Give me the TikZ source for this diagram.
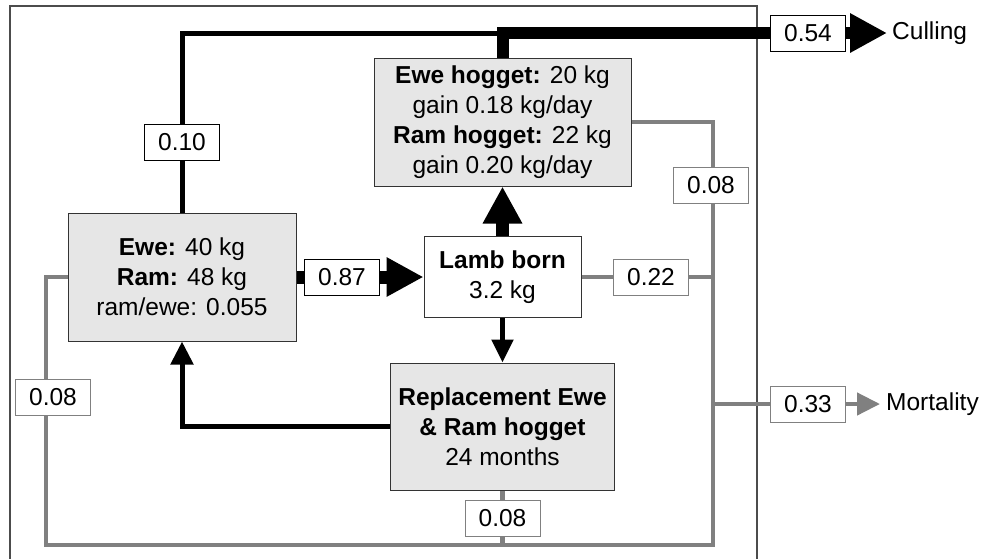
\documentclass[tikz,border=0pt]{standalone}
\usepackage{fontspec}
\setmainfont{Liberation Sans}
\usetikzlibrary{arrows.meta}
\definecolor{boxgray}{HTML}{E6E6E6}
\definecolor{flowgray}{HTML}{808080}

\begin{document}
\begin{tikzpicture}[x=1pt,y=-1pt,font=\fontsize{24.5}{30}\selectfont]
	\tikzstyle{bx}=[draw=black!80,line width=1pt,fill=boxgray,align=center,inner sep=0pt]
	\tikzstyle{lb}=[draw=black,fill=white,line width=1pt,minimum width=75pt,minimum height=36pt,inner sep=0pt]
	\tikzstyle{lg}=[lb,draw=flowgray]
	\tikzstyle{bk}=[line width=5pt]
	\tikzstyle{gy}=[line width=4.5pt,draw=flowgray]
	\tikzstyle{big}=[line width=13pt,-{Triangle[length=37pt,width=37pt]}]
	\useasboundingbox (0,0) rectangle (985,558);
	\draw[black!70, line width=1.2pt] (10,570) -- (10,6) -- (757,6) -- (757,570);
	% boxes
	\node[bx,minimum width=228pt,minimum height=128pt] (ewe) at (182,277) {\textbf{Ewe:} 40 kg\\\textbf{Ram:} 48 kg\\ram/ewe: 0.055};
	\node[bx,minimum width=257pt,minimum height=128pt] (hog) at (502.5,122) {\textbf{Ewe hogget:} 20 kg\\gain 0.18 kg/day\\\textbf{Ram hogget:} 22 kg\\gain 0.20 kg/day};
	\node[bx,fill=white,minimum width=157pt,minimum height=81pt] (lamb) at (502.5,277) {\textbf{Lamb born}\\3.2 kg};
	\node[bx,minimum width=224pt,minimum height=127pt] (rep) at (502.5,426.5) {\textbf{Replacement Ewe}\\\textbf{\& Ram hogget}\\24 months};
	\node[anchor=west,inner sep=5pt] (cul) at (887,33) {Culling};
	\node[anchor=west,inner sep=6pt] (mor) at (880,404) {Mortality};
	\coordinate (rc) at (713,545);
	\coordinate (lc) at (46,545);
	% gray flows
	\draw[gy] (hog.east) -| (rc) -- (lc) |- (ewe.west);
	\draw[gy] (lamb.east) -- (lamb.east -| rc);
	\draw[gy] (rep.south) -- (rep.south |- rc);
	\draw[gy,-{Triangle[length=23pt,width=22pt]}] (rc |- mor) -- (mor.west);
	% black flows
	\draw[line width=12pt,-{Triangle[length=37pt,width=37pt]}] (hog.north) |- (cul.west);
	\draw[bk] (ewe.north) |- (hog.north |- cul);
	\draw[big] (ewe.east) -- (lamb.west);
	\draw[big] (lamb.north) -- (hog.south);
	\draw[bk,-{Triangle[length=23pt,width=21pt]}] (lamb.south) -- (rep.north);
	\draw[bk,-{Triangle[length=23pt,width=22pt]}] (rep.west) -| (ewe.south);
	% rates
	\node[lb] (r10) at (182,142) {0.10};
	\node[lb] (r54) at (808,33) {0.54};
	\node[lb] (r87) at (342,277) {0.87};
	\foreach \nm/\px/\py/\val in {r08a/711/185/0.08, r22/651/277/0.22, r08b/53/397/0.08, r08c/502.5/518/0.08, r33/808/404/0.33}
		\node[lg] (\nm) at (\px,\py) {\val};
\end{tikzpicture}
\end{document}
